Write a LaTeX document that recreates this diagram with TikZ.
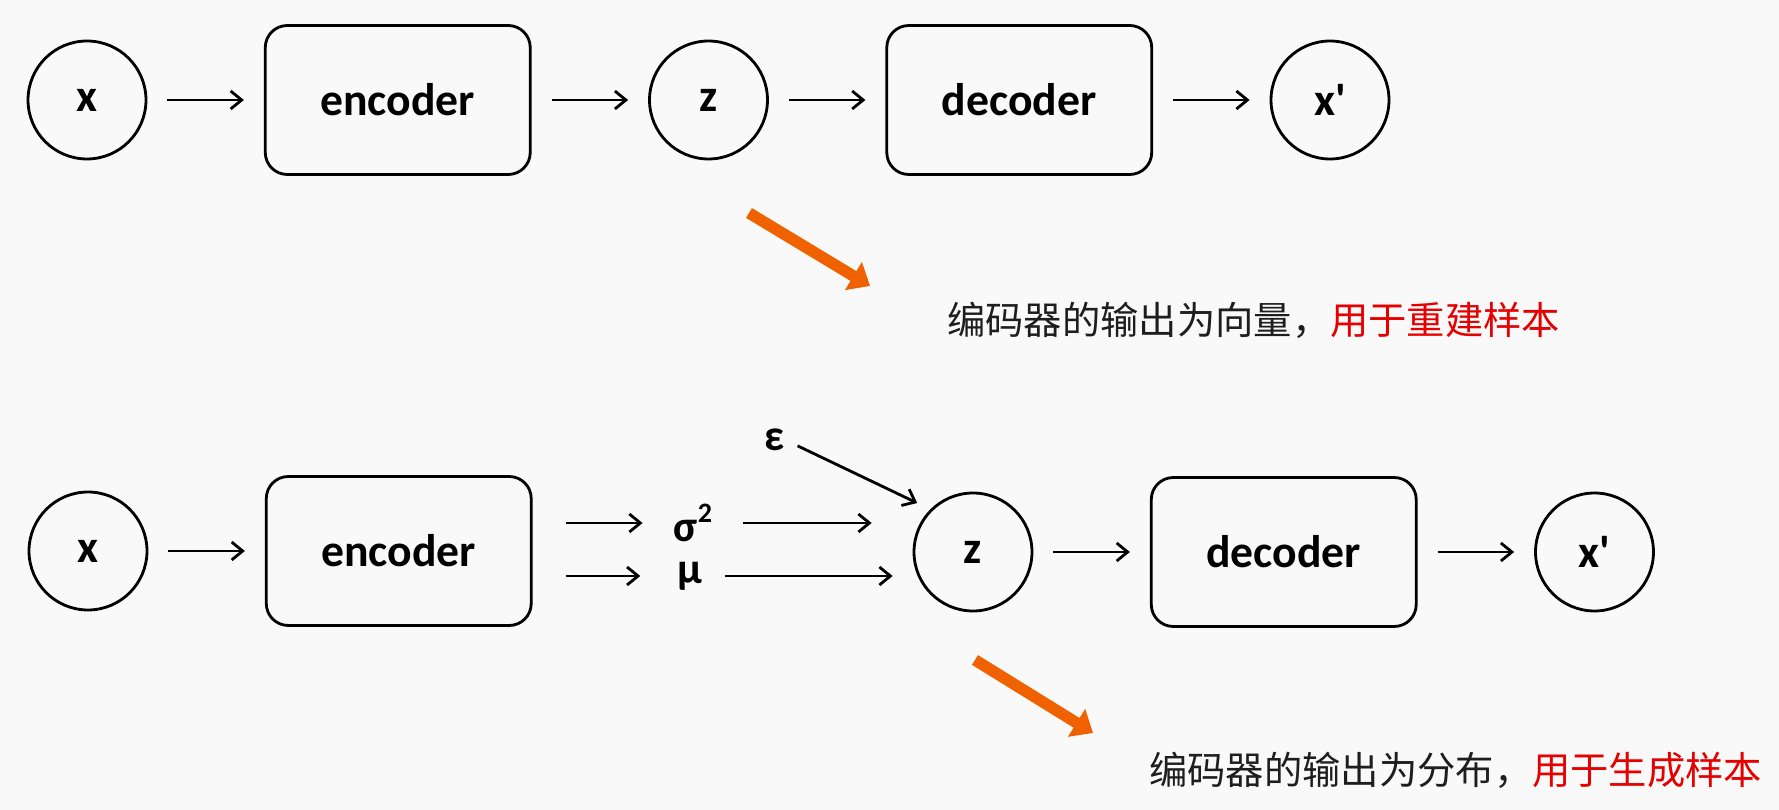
\documentclass[tikz,border=0pt]{standalone}
\usepackage{fontspec}
\newfontfamily\lat{Carlito}
\newfontfamily\cjk{Noto Sans CJK SC}
\usetikzlibrary{arrows.meta,positioning}
\definecolor{bg}{RGB}{249,249,249}
\definecolor{hint}{RGB}{240,98,0}
\definecolor{ink}{RGB}{30,30,30}
\definecolor{hot}{RGB}{230,0,0}

\begin{document}
\begin{tikzpicture}[
  x=0.02cm,y=-0.02cm,
  circ/.style={circle,draw,line width=1.6pt,minimum size=2.36cm,inner sep=0pt,font=\lat\fontsize{26}{30}\selectfont\bfseries},
  box/.style={rectangle,draw,rounded corners=0.44cm,line width=1.6pt,minimum width=5.3cm,minimum height=2.98cm,font=\lat\fontsize{26}{30}\selectfont\bfseries},
  lab/.style={inner sep=0pt,font=\lat\fontsize{25}{28}\selectfont\bfseries},
  arrow/.style={-{Straight Barb[length=2.2mm,width=3.6mm]},line width=1.6pt},
  gap/.style={shorten <=0.4cm,shorten >=0.4cm},
  bigarrow/.style={-{Triangle[length=11pt,width=18pt]},line width=6.5pt,hint},
  note/.style={anchor=west,inner sep=0pt,text=ink,font=\cjk\fontsize{21.8}{26}\selectfont},
  node distance=2.33cm
]
\path[use as bounding box,fill=bg] (0,0) rectangle (1779,810);

% autoencoder
\node[circ] (x1) at (87,100) {x};
\node[box,right=of x1] (enc1) {encoder};
\node[circ,right=of enc1] (z1) {z};
\node[box,right=of z1] (dec1) {decoder};
\node[circ,right=of dec1] (y1) {x'};
\draw[arrow,gap] (x1) -- (enc1);
\draw[arrow,gap] (enc1) -- (z1);
\draw[arrow,gap] (z1) -- (dec1);
\draw[arrow,gap] (dec1) -- (y1);

\coordinate (o1a) at (749,213);
\coordinate (o1b) at (870,286);
\draw[bigarrow] (o1a) -- (o1b);
\node[note] (note1) at (947,320) {编码器的输出为向量，\textcolor{hot}{用于重建样本}};

% variational autoencoder
\node[circ] (x2) at (88,551) {x};
\node[box,right=of x2] (enc2) {encoder};
\node[lab] (sig) at (693,523) {σ\raisebox{0.42em}{\fontsize{16}{19}\selectfont 2}};
\node[lab] (mu) at (690,576) {μ};
\node[lab] (eps) at (775,440) {ε};
\node[circ] (z2) at (973,552) {z};
\node[box,right=of z2] (dec2) {decoder};
\node[circ,right=of dec2] (y2) {x'};
\draw[arrow,gap] (x2) -- (enc2);
\draw[arrow,shorten <=0.66cm,shorten >=0.62cm] (enc2.east |- sig) -- (sig.west);
\draw[arrow,shorten <=0.66cm,shorten >=0.74cm] (enc2.east |- mu) -- (mu.west);
\draw[arrow,shorten <=0.62cm,shorten >=0.82cm] (sig.east) -- (sig -| z2.west);
\draw[arrow,shorten <=0.44cm,shorten >=0.4cm] (mu.east) -- (mu -| z2.west);
\draw[arrow,shorten <=0.27cm,shorten >=0.29cm] (eps.east) -- (z2.north west);
\draw[arrow,gap] (z2) -- (dec2);
\draw[arrow,gap] (dec2) -- (y2);

\coordinate (o2a) at (975,660);
\coordinate (o2b) at (1093,733);
\draw[bigarrow] (o2a) -- (o2b);
\node[note] (note2) at (1149,770) {编码器的输出为分布，\textcolor{hot}{用于生成样本}};
\end{tikzpicture}
\end{document}
